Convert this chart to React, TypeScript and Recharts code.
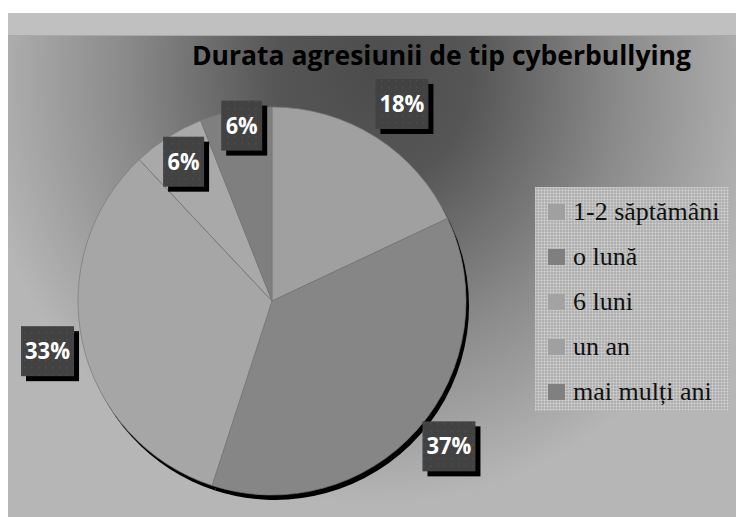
import React from 'react';
import { PieChart, Pie, Cell, Legend } from 'recharts';

const categories = ['1-2 săptămâni', 'o lună', '6 luni', 'un an', 'mai mulți ani'];
const values = [18, 37, 33, 6, 6];
const percentLabels = ['18%', '37%', '33%', '6%', '6%'];
const sliceColors = ['#a0a0a0', '#868686', '#a6a6a6', '#a9a9a9', '#7f7f7f'];
const swatchColors = ['#a0a0a0', '#7f7f7f', '#a3a3a3', '#a0a0a0', '#808080'];
const title = 'Durata agresiunii de tip cyberbullying';

const data = categories.map((name, i) => ({ name, value: values[i] }));

const labelRadius = [236, 229, 230, 165, 178];
const labelAngleShift = [-1, 2, 0, 0, -1];
const RAD = Math.PI / 180;

function renderLabel(props: any) {
  const { cx, cy, midAngle, index } = props;
  const a = midAngle + labelAngleShift[index];
  const r = labelRadius[index];
  const x = cx + r * Math.cos(-a * RAD);
  const y = cy + r * Math.sin(-a * RAD);
  const text = percentLabels[index];
  const w = text.length === 3 ? 53 : 41;
  const h = 50;
  return (
    <g key={`lbl-${index}`}>
      <rect x={x - w / 2 + 5} y={y - h / 2 + 5} width={w} height={h} fill="#000" />
      <rect x={x - w / 2} y={y - h / 2} width={w} height={h} fill="url(#dotPattern)" />
      <text
        x={x}
        y={y + 8}
        textAnchor="middle"
        fill="#ffffff"
        fontFamily="'Open Sans', sans-serif"
        fontWeight={700}
        fontSize={22.5}
        textLength={text.length === 3 ? 45 : 32}
        lengthAdjust="spacingAndGlyphs"
      >
        {text}
      </text>
    </g>
  );
}

function LegendBox() {
  return (
    <div
      style={{
        width: 194,
        height: 224,
        backgroundColor: '#afafaf',
        backgroundImage:
          'linear-gradient(to right, rgba(255,255,255,0.22) 1px, transparent 1px), linear-gradient(to bottom, rgba(255,255,255,0.22) 1px, transparent 1px)',
        backgroundSize: '3px 3px',
        boxSizing: 'border-box',
        paddingTop: 3,
      }}
    >
      {categories.map((c, i) => (
        <div key={c} style={{ display: 'flex', alignItems: 'center', height: 44.8 }}>
          <div style={{ width: 17, height: 16, marginLeft: 13, marginRight: 8, background: swatchColors[i] }} />
          <span
            style={{
              fontFamily: "'Liberation Serif', 'Times New Roman', serif",
              fontSize: 26,
              color: '#111',
              lineHeight: '28px',
              whiteSpace: 'nowrap',
            }}
          >
            {c}
          </span>
        </div>
      ))}
    </div>
  );
}

export default function App() {
  return (
    <div style={{ position: 'fixed', left: 0, top: 0, width: 736, height: 517, background: '#ffffff', overflow: 'hidden' }}>
      <div style={{ position: 'absolute', left: 8, top: 13, width: 728, height: 22, background: '#c0c0c0' }} />
      <div
        style={{
          position: 'absolute',
          left: 8,
          top: 35,
          width: 728,
          height: 482,
          borderTop: '1px solid #a8a8a8',
          boxSizing: 'border-box',
          background:
            'radial-gradient(ellipse 400px 430px at 365px 40px, #4c4c4c 0%, #565656 25%, #8a8a8a 62%, #b6b6b6 100%)',
        }}
      />
      <div style={{ position: 'absolute', left: 0, top: 0 }}>
        <PieChart width={736} height={517} margin={{ top: 0, right: 0, bottom: 0, left: 0 }}>
          <defs>
            <pattern id="dotPattern" width="7" height="7" patternUnits="userSpaceOnUse">
              <rect width="7" height="7" fill="#424242" />
              <rect x="3" y="3" width="1.5" height="1.5" fill="#4d4d4d" />
            </pattern>
          </defs>
          <text
            x={192}
            y={65}
            textLength={499}
            lengthAdjust="spacingAndGlyphs"
            fontFamily="'Open Sans', sans-serif"
            fontWeight={700}
            fontSize={26}
            fill="#000"
          >
            {title}
          </text>
          <Pie
            data={data}
            dataKey="value"
            nameKey="name"
            cx={275}
            cy={306}
            outerRadius={194}
            startAngle={90}
            endAngle={-270}
            stroke="none"
            fill="#000"
            label={false}
            labelLine={false}
            legendType="none"
            isAnimationActive={false}
          >
            {data.map((d, i) => (
              <Cell key={`s-${i}`} fill="#000" />
            ))}
          </Pie>
          <Pie
            data={data}
            dataKey="value"
            nameKey="name"
            cx={272}
            cy={301}
            outerRadius={194}
            startAngle={90}
            endAngle={-270}
            stroke="#7a7a7a"
            strokeWidth={0.7}
            label={renderLabel}
            labelLine={false}
            isAnimationActive={false}
          >
            {data.map((d, i) => (
              <Cell key={`c-${i}`} fill={sliceColors[i]} />
            ))}
          </Pie>
          <Legend
            layout="vertical"
            align="right"
            verticalAlign="middle"
            wrapperStyle={{ left: 535, top: 187, width: 194, height: 224, right: 'auto', bottom: 'auto' }}
            content={() => <LegendBox />}
          />
        </PieChart>
      </div>
    </div>
  );
}
